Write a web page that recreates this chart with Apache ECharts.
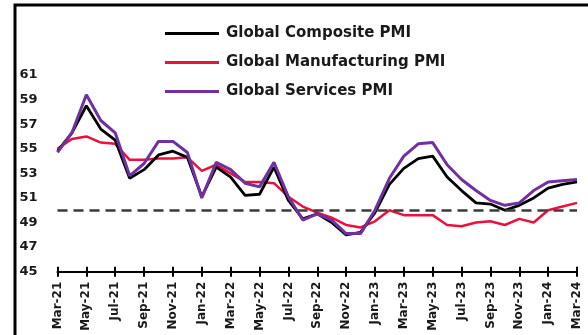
<!DOCTYPE html>
<html>
<head>
<meta charset="utf-8">
<script src="https://cdn.jsdelivr.net/npm/echarts@6/dist/echarts.min.js"></script>
<style>html,body{margin:0;padding:0;background:#fff;}#c{width:588px;height:335px;}</style>
</head>
<body>
<div id="c"></div>
<script>
var months = ['Mar-21','Apr-21','May-21','Jun-21','Jul-21','Aug-21','Sep-21','Oct-21','Nov-21','Dec-21',
  'Jan-22','Feb-22','Mar-22','Apr-22','May-22','Jun-22','Jul-22','Aug-22','Sep-22','Oct-22','Nov-22','Dec-22',
  'Jan-23','Feb-23','Mar-23','Apr-23','May-23','Jun-23','Jul-23','Aug-23','Sep-23','Oct-23','Nov-23','Dec-23',
  'Jan-24','Feb-24','Mar-24'];
var composite = [54.8,56.3,58.5,56.6,55.7,52.6,53.3,54.5,54.8,54.3,
  51.1,53.5,52.7,51.2,51.3,53.5,50.8,49.3,49.7,49.0,48.0,48.2,
  49.8,52.1,53.4,54.2,54.4,52.7,51.6,50.6,50.5,50.0,50.4,51.0,
  51.8,52.1,52.3];
var manufacturing = [55.0,55.8,56.0,55.5,55.4,54.1,54.1,54.2,54.2,54.3,
  53.2,53.7,53.0,52.3,52.3,52.2,51.1,50.3,49.8,49.4,48.8,48.6,
  49.1,50.0,49.6,49.6,49.6,48.8,48.7,49.0,49.1,48.8,49.3,49.0,
  50.0,50.3,50.6];
var services = [54.7,56.3,59.4,57.3,56.3,52.8,53.8,55.6,55.6,54.7,
  51.0,53.9,53.3,52.2,51.9,53.9,51.1,49.2,49.7,49.2,48.1,48.1,
  50.0,52.6,54.4,55.4,55.5,53.7,52.5,51.6,50.8,50.4,50.6,51.6,
  52.3,52.4,52.5];
var threshold = 50;
var seriesNames = ['Global Composite PMI','Global Manufacturing PMI','Global Services PMI'];

var FONT = 'DejaVu Sans';
var chart = echarts.init(document.getElementById('c'), null, {renderer:'canvas'});
chart.setOption({
  animation: false,
  backgroundColor: '#fff',
  graphic: [{
    type: 'rect', z: 100,
    shape: {x: 15, y: 5, width: 800, height: 600},
    style: {fill: 'none', stroke: '#000', lineWidth: 3}
  }],
  legend: {
    orient: 'vertical', left: 160, top: 21,
    data: seriesNames.map(function(n){return {name:n, icon:'rect'};}),
    itemWidth: 54, itemHeight: 3, itemGap: 14,
    textStyle: {fontFamily: FONT, fontWeight: 'bold', fontSize: 15, color: '#1a1a1a', padding:[0,0,0,2]}
  },
  grid: {left: 57.5, right: 11, top: 75, bottom: 63.3, containLabel: false},
  xAxis: [{
    type: 'category', data: months, boundaryGap: false, position: 'bottom',
    axisLine: {show: true, lineStyle: {color: '#000', width: 2}},
    axisTick: {show: true, interval: 1, inside: false, length: 5, lineStyle: {color: '#000', width: 2}},
    axisLabel: {interval: 1, rotate: 90, margin: 10, fontFamily: FONT, fontWeight: 'bold', fontSize: 12, color: '#1a1a1a'},
    splitLine: {show: false}
  }, {
    type: 'category', data: months, boundaryGap: false, position: 'bottom', offset: 0,
    axisLine: {show: false},
    axisTick: {show: true, interval: 1, inside: true, length: 5, lineStyle: {color: '#000', width: 2}},
    axisLabel: {show: false},
    splitLine: {show: false}
  }],
  yAxis: {
    type: 'value', min: 45, max: 61, interval: 2,
    axisLine: {show: false}, axisTick: {show: false}, splitLine: {show: false},
    axisLabel: {align: 'left', margin: 38, fontFamily: FONT, fontWeight: 'bold', fontSize: 13, color: '#1a1a1a'}
  },
  series: [{
    name: seriesNames[1], type: 'line', data: manufacturing, symbol: 'none',
    lineStyle: {color: '#e8123c', width: 2.5}, itemStyle: {color: '#e8123c'}, z: 3,
    markLine: {
      silent: true, symbol: 'none', label: {show: false},
      lineStyle: {color: '#3d3a3a', type: [10, 6], width: 2.5},
      data: [{yAxis: threshold}]
    }
  }, {
    name: seriesNames[0], type: 'line', data: composite, symbol: 'none',
    lineStyle: {color: '#000', width: 2.8}, itemStyle: {color: '#000'}, z: 4
  }, {
    name: seriesNames[2], type: 'line', data: services, symbol: 'none',
    lineStyle: {color: '#7030a0', width: 3}, itemStyle: {color: '#7030a0'}, z: 5
  }]
});
</script>
</body>
</html>
